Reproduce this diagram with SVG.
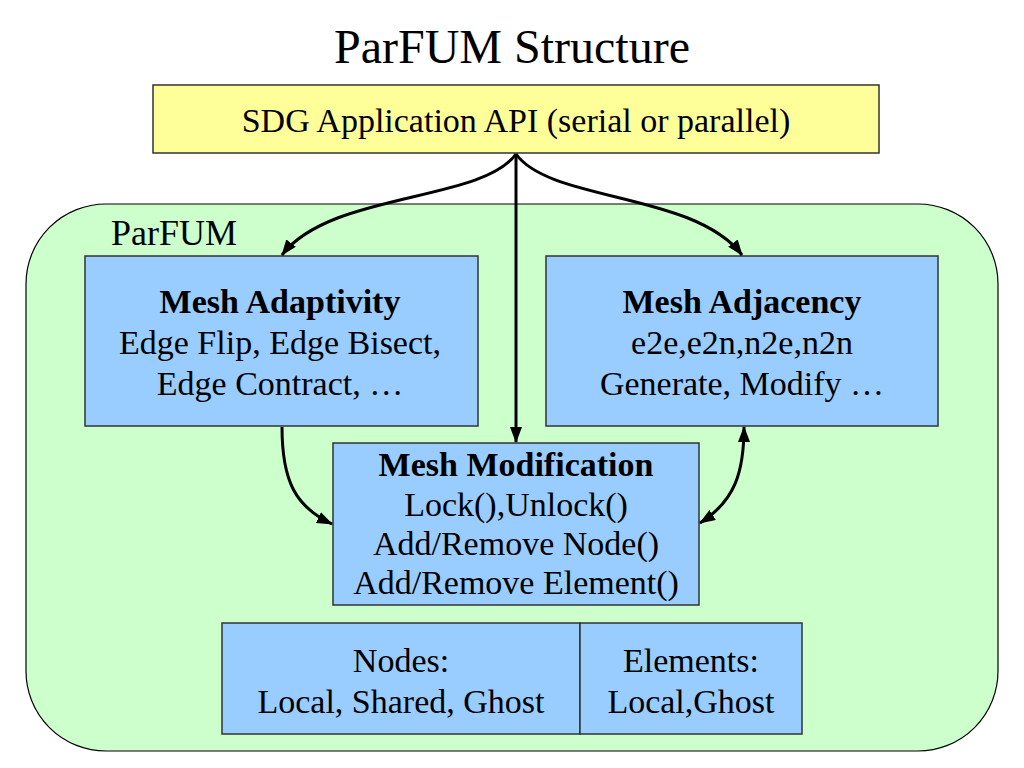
<svg xmlns="http://www.w3.org/2000/svg" width="1024" height="768" viewBox="0 0 1024 768">
<defs>
<style>
text{font-family:"Liberation Serif","Times New Roman",serif;fill:#000;text-anchor:middle}
.t{font-size:34px}
.b{font-size:34px;font-weight:bold}
.box{stroke:#333;stroke-width:1.5}
.blue{fill:#99CCFF}
.conn path{fill:none;stroke:#000;stroke-width:3}
</style>
<marker id="ah" viewBox="0 0 16 12" refX="15" refY="6" markerWidth="16" markerHeight="12" markerUnits="userSpaceOnUse" orient="auto-start-reverse">
<path d="M0,0 L16,6 L0,12 Z" fill="#000"/>
</marker>
</defs>
<rect width="1024" height="768" fill="#fff"/>
<text x="512" y="63" style="font-size:48px">ParFUM Structure</text>
<g id="parfum">
<rect x="26" y="204" width="972" height="547" rx="80" ry="80" fill="#CCFFCC" stroke="#000" stroke-width="1.2"/>
<text x="174" y="245" style="font-size:36px">ParFUM</text>
</g>
<g id="api">
<rect class="box" x="153" y="85" width="726" height="68" fill="#FFFF99"/>
<text class="t" x="516" y="132">SDG Application API (serial or parallel)</text>
</g>
<g id="adaptivity">
<rect class="box blue" x="85" y="256" width="393" height="170"/>
<text class="b" x="280" y="313">Mesh Adaptivity</text>
<text class="t" x="280" y="354">Edge Flip, Edge Bisect,</text>
<text class="t" x="280" y="395">Edge Contract, …</text>
</g>
<g id="adjacency">
<rect class="box blue" x="546" y="256" width="392" height="170"/>
<text class="b" x="742" y="313">Mesh Adjacency</text>
<text class="t" x="742" y="354">e2e,e2n,n2e,n2n</text>
<text class="t" x="742" y="395">Generate, Modify …</text>
</g>
<g id="modification">
<rect class="box blue" x="333" y="443" width="366" height="162"/>
<text class="b" x="516" y="476">Mesh Modification</text>
<text class="t" x="516" y="516">Lock(),Unlock()</text>
<text class="t" x="516" y="555">Add/Remove Node()</text>
<text class="t" x="516" y="594">Add/Remove Element()</text>
</g>
<g id="nodes">
<rect class="box blue" x="222" y="623" width="358" height="111"/>
<text class="t" x="401" y="672">Nodes:</text>
<text class="t" x="401" y="713">Local, Shared, Ghost</text>
</g>
<g id="elements">
<rect class="box blue" x="580" y="623" width="222" height="111"/>
<text class="t" x="691" y="672">Elements:</text>
<text class="t" x="691" y="713">Local,Ghost</text>
</g>
<g id="connectors" class="conn">
<path d="M516,154 C482,202 330,192 282,255" marker-end="url(#ah)"/>
<path d="M516,154 C550,202 694,192 742,255" marker-end="url(#ah)"/>
<path d="M516,154 L516,442" marker-end="url(#ah)"/>
<path d="M282,427 C282,482 296,507 332,524" marker-end="url(#ah)"/>
<path d="M744,427 C744,472 735,501 700,523" marker-start="url(#ah)" marker-end="url(#ah)"/>
</g>
</svg>
